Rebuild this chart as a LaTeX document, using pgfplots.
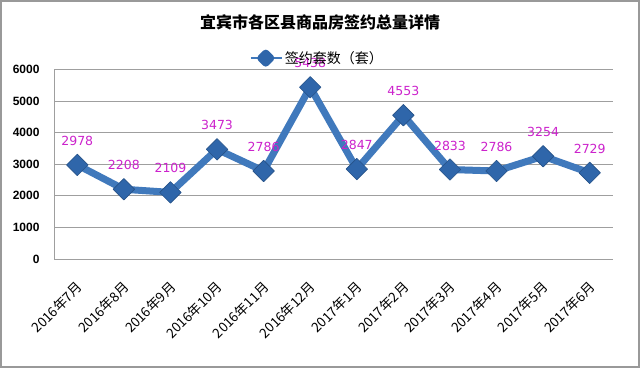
\documentclass[border=0pt]{standalone}
\usepackage{fontspec}
\setmainfont{Liberation Sans}
\newfontfamily\cjk{Noto Sans CJK SC}
\newfontfamily\djv{DejaVu Sans}
\usepackage{pgfplots}
\pgfplotsset{compat=1.18}
\definecolor{lineblue}{HTML}{4079BC}
\definecolor{markblue}{HTML}{2F66AA}
\definecolor{lab}{HTML}{CC22CC}
\begin{document}
\begin{tikzpicture}
\useasboundingbox (0pt,0pt) rectangle (640pt,368pt);
\fill[white] (0pt,0pt) rectangle (640pt,368pt);
\draw[gray!80, line width=2pt] (1pt,1pt) rectangle (639pt,367pt);
\node[font=\cjk\bfseries\fontsize{16}{18}\selectfont] at (320pt,346pt) {宜宾市各区县商品房签约总量详情};
\begin{axis}[
  at={(54pt,109pt)}, anchor=south west, scale only axis,
  width=559pt, height=189.5pt,
  xmin=-0.5, xmax=11.5, ymin=0, ymax=6000,
  ytick={0,1000,...,6000},
  xtick={0,...,11},
  xticklabels={2016年7月,2016年8月,2016年9月,2016年10月,2016年11月,2016年12月,2017年1月,2017年2月,2017年3月,2017年4月,2017年5月,2017年6月},
  x tick label style={rotate=45, anchor=north east, font=\cjk\fontsize{13.5}{14}\selectfont, xshift=-12.8pt, yshift=-10.2pt},
  y tick label style={font=\bfseries\fontsize{12}{13}\selectfont, xshift=-11pt},
  /pgf/number format/assume math mode=true,
  /pgf/number format/1000 sep={},
  scaled ticks=false,
  ymajorgrids,
  grid style={gray!75, line width=1pt},
  axis line style={gray!75, line width=1pt},
  axis x line*=bottom, axis y line*=left,
  major tick length=0pt,
  clip=false,
  legend style={at={(0.471,1.06)}, anchor=center, draw=none, fill=none, font=\cjk\fontsize{14}{15}\selectfont, inner sep=0pt},
  legend image code/.code={
    \draw[lineblue, line width=2pt] (0pt,0pt)--(31pt,0pt);
    \fill[markblue] (15pt,5pt)--(20pt,0pt)--(15pt,-5pt)--(10pt,0pt)--cycle;
  },
  nodes near coords,
  every node near coord/.append style={font=\djv\fontsize{12.5}{13}\selectfont, text=lab, anchor=center, yshift=24pt},
]
\addplot[lineblue, line width=7pt, line join=round,
  mark=square*, mark size=7.6pt,
  mark options={rotate=45, fill=markblue, draw=markblue!80!black, line width=0.6pt}]
coordinates {
(0,2978) (1,2208) (2,2109) (3,3473) (4,2786) (5,5438)
(6,2847) (7,4553) (8,2833) (9,2786) (10,3254) (11,2729)
};
\addlegendentry{签约套数（套）}
\end{axis}
\end{tikzpicture}
\end{document}
